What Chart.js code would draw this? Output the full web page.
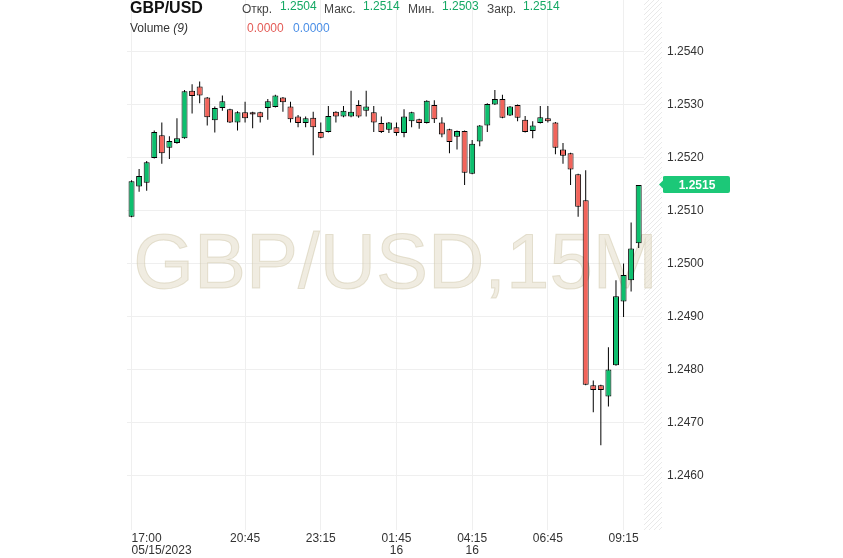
<!DOCTYPE html>
<html><head><meta charset="utf-8">
<script src="https://cdn.jsdelivr.net/npm/chart.js@4/dist/chart.umd.min.js"></script>
<style>
html,body{margin:0;padding:0;background:#fff;}
#wrap{position:relative;width:843px;height:558px;overflow:hidden;font-family:Arial,"Liberation Sans",sans-serif;}
#c{position:absolute;left:0;top:0;}
.t{position:absolute;white-space:nowrap;font-size:12px;line-height:12px;color:#333;}
</style></head><body>
<div id="wrap"><canvas id="c" width="843" height="558"></canvas></div>
<script>
// ---- data (15M candles, GBP/USD, 05/15/2023 17:00 .. 05/16 09:45) ----
const openV  = [1.25089,1.25146,1.25153,1.25200,1.25243,1.25219,1.25228,1.25237,1.25327,1.25335,1.25314,1.25271,1.25294,1.25292,1.25267,1.25286,1.25286,1.25286,1.25294,1.25296,1.25314,1.25297,1.25278,1.25266,1.25276,1.25249,1.25249,1.25287,1.25278,1.25278,1.25300,1.25289,1.25286,1.25266,1.25253,1.25258,1.25247,1.25269,1.25273,1.25266,1.25300,1.25267,1.25254,1.25240,1.25251,1.25170,1.25231,1.25261,1.25301,1.25311,1.25280,1.25300,1.25272,1.25251,1.25266,1.25275,1.25267,1.25216,1.25209,1.25169,1.25120,1.24771,1.24771,1.24750,1.24809,1.24929,1.24969,1.25039];
const highV  = [1.25158,1.25179,1.25194,1.25252,1.25267,1.25241,1.25275,1.25328,1.25339,1.25344,1.25315,1.25297,1.25318,1.25293,1.25288,1.25306,1.25287,1.25287,1.25311,1.25319,1.25315,1.25306,1.25281,1.25278,1.25287,1.25267,1.25298,1.25288,1.25298,1.25327,1.25309,1.25327,1.25298,1.25278,1.25268,1.25267,1.25292,1.25287,1.25274,1.25309,1.25309,1.25277,1.25255,1.25252,1.25252,1.25234,1.25262,1.25303,1.25328,1.25319,1.25298,1.25301,1.25279,1.25269,1.25298,1.25298,1.25268,1.25228,1.25210,1.25170,1.25177,1.24780,1.24772,1.24843,1.24969,1.25001,1.25078,1.25149];
const lowV   = [1.25088,1.25136,1.25138,1.25199,1.25189,1.25198,1.25227,1.25236,1.25284,1.25303,1.25261,1.25248,1.25289,1.25266,1.25252,1.25267,1.25256,1.25267,1.25272,1.25295,1.25287,1.25267,1.25258,1.25258,1.25205,1.25237,1.25248,1.25267,1.25277,1.25277,1.25276,1.25278,1.25249,1.25247,1.25247,1.25242,1.25239,1.25258,1.25255,1.25265,1.25266,1.25239,1.25209,1.25216,1.25149,1.25169,1.25222,1.25249,1.25300,1.25275,1.25279,1.25269,1.25248,1.25237,1.25265,1.25267,1.25207,1.25189,1.25149,1.25089,1.24771,1.24720,1.24658,1.24731,1.24808,1.24900,1.24948,1.25030];
const closeV = [1.25156,1.25166,1.25192,1.25249,1.25209,1.25232,1.25237,1.25326,1.25317,1.25318,1.25277,1.25294,1.25307,1.25267,1.25286,1.25275,1.25282,1.25277,1.25307,1.25318,1.25305,1.25273,1.25266,1.25275,1.25258,1.25238,1.25279,1.25278,1.25289,1.25287,1.25278,1.25297,1.25267,1.25249,1.25267,1.25247,1.25278,1.25286,1.25266,1.25308,1.25273,1.25244,1.25230,1.25251,1.25172,1.25227,1.25261,1.25302,1.25311,1.25276,1.25297,1.25276,1.25249,1.25261,1.25277,1.25269,1.25219,1.25204,1.25178,1.25108,1.24772,1.24762,1.24762,1.24801,1.24939,1.24979,1.25029,1.25149];

const xTickIndex  = [0, 15, 25, 35, 45, 55, 65];
const xTickLabels = [['17:00','05/15/2023'], '20:45', '23:15', ['01:45','16'], ['04:15','16'], '06:45', '09:15'];
const yTickValues = [1.2460, 1.2470, 1.2480, 1.2490, 1.2500, 1.2510, 1.2520, 1.2530, 1.2540];
const yTickLabels = ['1.2460','1.2470','1.2480','1.2490','1.2500','1.2510','1.2520','1.2530','1.2540'];

const symbolName  = 'GBP/USD';
const watermark   = 'GBP/USD,15M';
const ohlcNames   = ['Откр.', 'Макс.', 'Мин.', 'Закр.'];
const ohlcValues  = ['1.2504', '1.2514', '1.2503', '1.2514'];
const volumeName  = 'Volume';
const volumeArg   = '(9)';
const volumeValues = ['0.0000', '0.0000'];
const lastPriceLabel = '1.2515';

// ---- header as real DOM text ----
const wrap = document.getElementById('wrap');
function addText(txt, left, top, css) {
  const d = document.createElement('div');
  d.className = 't';
  d.textContent = txt;
  d.style.left = left + 'px';
  d.style.top = top + 'px';
  Object.assign(d.style, css || {});
  wrap.appendChild(d);
  return d;
}
addText(symbolName, 130, 0, {fontSize:'16px', lineHeight:'16px', fontWeight:'bold', color:'#111'});
const nameX = [242, 324, 408, 487];
const valX  = [280, 363, 442, 523];
ohlcNames.forEach((n, i) => addText(n, nameX[i], 3, {color:'#444'}));
ohlcValues.forEach((v, i) => addText(v, valX[i], 0, {color:'#15a864'}));
const vol = addText(volumeName + ' ', 130, 22, {color:'#333'});
const it = document.createElement('i'); it.textContent = volumeArg; vol.appendChild(it);
addText(volumeValues[0], 247, 22, {color:'#e45c57'});
addText(volumeValues[1], 293, 22, {color:'#4a8ee6'});

// ---- chart ----
const GREEN = '#0dbf6e', RED = '#f2645b';
const idx = openV.map((_, i) => i);
const X_MIN = -0.6, X_MAX = 70.08;

const bgPlugin = {
  id: 'bgWatermark',
  beforeDraw(chart) {
    const {ctx} = chart;
    ctx.save();
    ctx.fillStyle = '#fff';
    ctx.fillRect(0, 0, chart.width, chart.height);
    ctx.restore();
  },
  beforeDatasetsDraw(chart) {
    const {ctx, chartArea: a} = chart;
    const x0 = chart.scales.x.getPixelForValue(67.7);
    // hatched "future" zone
    ctx.save();
    ctx.beginPath();
    ctx.rect(x0, a.top, a.right - x0, a.bottom - a.top);
    ctx.clip();
    ctx.fillStyle = '#fff';
    ctx.fillRect(x0, a.top, a.right - x0, a.bottom - a.top);
    ctx.strokeStyle = '#e9e9e9';
    ctx.lineWidth = 1;
    for (let y = a.top - 40; y < a.bottom + 40; y += 5) {
      ctx.beginPath();
      ctx.moveTo(x0 - 2, y + 22);
      ctx.lineTo(a.right + 2, y);
      ctx.stroke();
    }
    ctx.restore();
    // watermark
    ctx.save();
    ctx.beginPath();
    ctx.rect(a.left, a.top, a.right - a.left, a.bottom - a.top);
    ctx.clip();
    ctx.font = '78px "Liberation Sans", Arial, sans-serif';
    ctx.textAlign = 'center';
    ctx.textBaseline = 'alphabetic';
    ctx.fillStyle = 'rgba(225,218,196,0.5)';
    ctx.strokeStyle = 'rgba(205,196,165,0.45)';
    ctx.lineWidth = 1;
    const cx = (a.left + a.right) / 2 + 1;
    ctx.fillText(watermark, cx, 288);
    ctx.strokeText(watermark, cx, 288);
    ctx.restore();
  },
  afterDraw(chart) {
    const {ctx, chartArea: a} = chart;
    const y = chart.scales.y.getPixelForValue(parseFloat(lastPriceLabel));
    const bx = a.right, bw = 68, bh = 17;
    ctx.save();
    ctx.fillStyle = '#1cc878';
    ctx.beginPath();
    ctx.moveTo(bx - 3, y);
    ctx.lineTo(bx + 1, y - 4);
    ctx.lineTo(bx + 1, y - bh / 2 + 1);
    ctx.quadraticCurveTo(bx + 1, y - bh / 2, bx + 3, y - bh / 2);
    ctx.lineTo(bx + bw - 2, y - bh / 2);
    ctx.quadraticCurveTo(bx + bw, y - bh / 2, bx + bw, y - bh / 2 + 2);
    ctx.lineTo(bx + bw, y + bh / 2 - 2);
    ctx.quadraticCurveTo(bx + bw, y + bh / 2, bx + bw - 2, y + bh / 2);
    ctx.lineTo(bx + 3, y + bh / 2);
    ctx.quadraticCurveTo(bx + 1, y + bh / 2, bx + 1, y + bh / 2 - 1);
    ctx.lineTo(bx + 1, y + 4);
    ctx.closePath();
    ctx.fill();
    ctx.fillStyle = '#fff';
    ctx.font = 'bold 12px "Liberation Sans", Arial, sans-serif';
    ctx.textAlign = 'center';
    ctx.textBaseline = 'middle';
    ctx.fillText(lastPriceLabel, bx + bw / 2 + 1, y + 1);
    ctx.restore();
  }
};

new Chart(document.getElementById('c'), {
  type: 'bar',
  data: {
    datasets: [
      {
        label: 'body',
        order: 0,
        data: idx.map(i => ({x: i, y: [openV[i], closeV[i]]})),
        backgroundColor: idx.map(i => closeV[i] >= openV[i] ? GREEN : RED),
        borderColor: '#000',
        borderWidth: 1,
        borderSkipped: false,
        barThickness: 6,
        minBarLength: 2,
        grouped: false,
        inflateAmount: 0
      },
      {
        label: 'wick',
        order: 1,
        data: idx.map(i => ({x: i, y: [lowV[i], highV[i]]})),
        backgroundColor: '#000',
        borderWidth: 0,
        barThickness: 1,
        grouped: false,
        inflateAmount: 0
      }
    ]
  },
  options: {
    responsive: false,
    animation: false,
    layout: {padding: {left: 127, top: 0, right: 0, bottom: 0}},
    plugins: {legend: {display: false}, tooltip: {enabled: false}},
    scales: {
      x: {
        type: 'linear',
        min: X_MIN, max: X_MAX,
        offset: false,
        afterBuildTicks(s) {
          s.ticks = xTickIndex.map(v => ({value: v})).concat([{value: X_MAX}]);
        },
        afterFit(s) { s.height = 28; s.paddingLeft = 0; s.paddingRight = 0; },
        ticks: {
          autoSkip: false, maxRotation: 0, minRotation: 0, align: 'inner',
          padding: 3, color: '#333',
          font: {family: '"Liberation Sans", Arial, sans-serif', size: 12, lineHeight: 1.0},
          callback: (v, i) => i < xTickLabels.length ? xTickLabels[i] : ''
        },
        grid: {
          offset: false,
          drawTicks: false,
          color: c => (c.index < xTickIndex.length ? '#efefef' : 'rgba(0,0,0,0)'),
          lineWidth: 1
        },
        border: {display: false}
      },
      y: {
        position: 'right',
        min: 1.24498, max: 1.25498,
        afterBuildTicks(s) { s.ticks = yTickValues.map(v => ({value: v})); },
        afterFit(s) { s.width = 181; s.paddingTop = 0; s.paddingBottom = 0; },
        ticks: {
          padding: 5, color: '#333',
          font: {family: '"Liberation Sans", Arial, sans-serif', size: 12},
          callback: (v, i) => yTickLabels[i]
        },
        grid: {drawTicks: false, color: '#efefef', lineWidth: 1},
        border: {display: false}
      }
    }
  },
  plugins: [bgPlugin]
});
</script>
</body></html>
